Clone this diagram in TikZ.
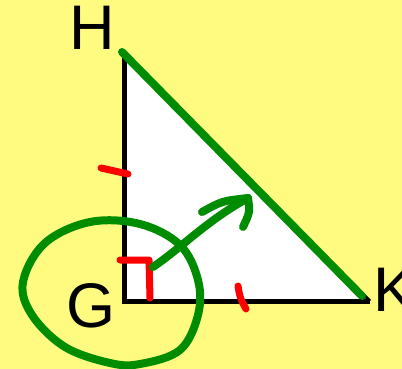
\documentclass[tikz,border=0pt]{standalone}
\usepackage{fontspec}
\setmainfont{Liberation Sans}
\usetikzlibrary{arrows.meta, positioning, calc}
\definecolor{bgyellow}{RGB}{255,250,128}
\definecolor{penred}{RGB}{255,0,0}
\definecolor{pengreen}{RGB}{0,140,0}
\tikzset{
  side/.style   = {draw=black, line width=5pt},
  pen/.style    = {draw=pengreen, line width=8pt, line cap=round, line join=round},
  tick/.style   = {draw=penred, line width=7pt, line cap=round, line join=round},
  vlabel/.style = {inner sep=0pt, font=\fontsize{63}{63}\selectfont},
}
\begin{document}
\begin{tikzpicture}[x=1pt, y=-1pt]
  % page
  \fill[bgyellow] (0,0) rectangle (402,369);
  \useasboundingbox (0,0) rectangle (402,369);
  % vertices
  \coordinate (G) at (124,301);
  \coordinate (H) at (124,57);
  \coordinate (K) at (370,301);
  % triangle
  \fill[white] (G) -- (H) -- (K) -- cycle;
  \draw[side] (H) -- (G) -- (K);
  \draw[black, line width=3pt] (H) -- (K);
  % vertex labels
  \node[vlabel] (lblH) at (92,28)  {H};
  \node[vlabel] (lblG) at (91,306) {G};
  \node[vlabel] (lblK) at (395,290) {K};
  % equal sides and right angle
  \draw[tick] (101,168) -- (128,174);
  \draw[tick] (238,286) .. controls (240,298) .. (246,309);
  \coordinate (ra) at (150,265);
  \draw[tick] (120,260) -- (149,260) -- (150,298);
  % hypotenuse highlight
  \coordinate (h1) at (122,52);
  \coordinate (h2) at (362,296);
  \draw[pen] (h1) -- (h2);
  % loop round G
  \draw[pen] plot[smooth cycle, tension=0.6] coordinates {
    (45,243) (90,222) (140,224) (180,245) (198,280) (198,315)
    (180,350) (140,364) (110,363) (65,347) (32,315) (23,282)};
  % arrow towards the hypotenuse
  \coordinate (tip) at (248,198);
  \draw[pen] (153,267) .. controls (185,245) and (205,222) .. (tip);
  \draw[pen] (202,212) .. controls (222,201) .. (tip);
  \draw[pen] (tip) .. controls (250,212) .. (243,227);
\end{tikzpicture}
\end{document}
